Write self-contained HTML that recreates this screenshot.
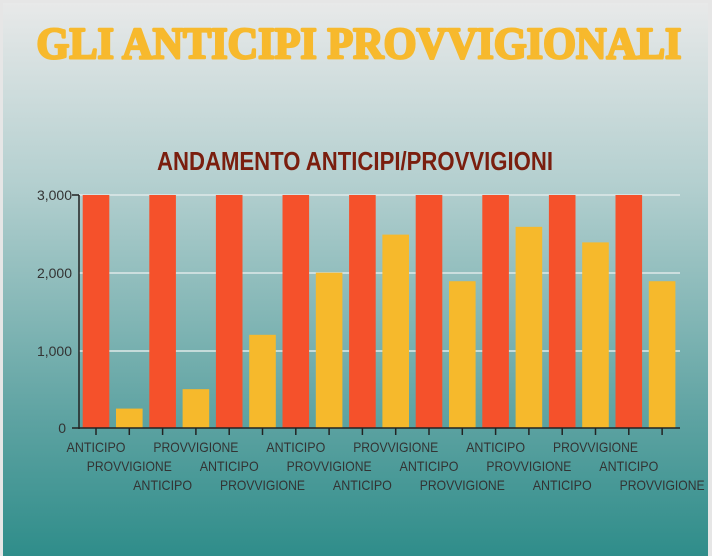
<!DOCTYPE html>
<html><head><style>
html,body{margin:0;padding:0;}
body{width:712px;height:556px;overflow:hidden;background:#e6e6e6;}
</style></head><body>
<svg width="712" height="556" xmlns="http://www.w3.org/2000/svg" style="display:block">
<defs>
<linearGradient id="bg" x1="0" y1="0" x2="0" y2="1">
<stop offset="0" stop-color="#e8e9e9"/>
<stop offset="0.33" stop-color="#b3cfcf"/>
<stop offset="0.75" stop-color="#5ea3a2"/>
<stop offset="1" stop-color="#2f8d8a"/>
</linearGradient>
</defs>
<rect x="0" y="0" width="712" height="556" fill="#e6e6e6"/>
<rect x="3" y="3" width="705" height="553" fill="url(#bg)"/>
<text x="359" y="58" text-anchor="middle" font-family="Liberation Serif, serif" font-weight="bold" font-size="44" fill="#f7b92d" stroke="#f7b92d" stroke-width="2.5" stroke-linejoin="round" textLength="645" lengthAdjust="spacingAndGlyphs">GLI ANTICIPI PROVVIGIONALI</text>
<text x="355" y="170" text-anchor="middle" font-family="Liberation Sans, sans-serif" font-weight="bold" font-size="26" fill="#7a1e0e" textLength="396" lengthAdjust="spacingAndGlyphs">ANDAMENTO ANTICIPI/PROVVIGIONI</text>
<g stroke="#dfe9e9" stroke-width="1.5">
<line x1="79" y1="195" x2="680" y2="195"/>
<line x1="79" y1="273" x2="680" y2="273"/>
<line x1="79" y1="351" x2="680" y2="351"/>
</g>
<g font-family="Liberation Sans, sans-serif" font-size="14" fill="#333" text-anchor="end">
<text x="72" y="200">3,000</text>
<text x="72" y="278">2,000</text>
<text x="72" y="356">1,000</text>
<text x="66" y="433">0</text>
</g>
<g id="bars"></g>
<g stroke="#222" stroke-width="1.5">
<line x1="79" y1="195" x2="79" y2="429"/>
<line x1="72" y1="195" x2="79" y2="195"/>
<line x1="72" y1="428" x2="680" y2="428"/>
</g>
<g id="ticks" stroke="#222" stroke-width="1.5"></g>
<g id="labels" font-family="Liberation Sans, sans-serif" font-size="14" fill="#333" text-anchor="middle"></g>
<script>
var vals=[3000,250,3000,500,3000,1200,3000,2000,3000,2490,3000,1890,3000,2590,3000,2390,3000,1890];
var ns="http://www.w3.org/2000/svg";
var b=document.getElementById('bars'),t=document.getElementById('ticks'),l=document.getElementById('labels');
for(var i=0;i<18;i++){
 var cx=96+i*33.3;
 var h=vals[i]*233/3000;
 var r=document.createElementNS(ns,'rect');
 r.setAttribute('x',cx-13.3);r.setAttribute('width',26.6);
 r.setAttribute('y',428-h);r.setAttribute('height',h);
 r.setAttribute('fill',i%2?'#f6b92c':'#f5512b');
 b.appendChild(r);
 var ln=document.createElementNS(ns,'line');
 ln.setAttribute('x1',cx);ln.setAttribute('x2',cx);ln.setAttribute('y1',428);ln.setAttribute('y2',435);
 t.appendChild(ln);
 var tx=document.createElementNS(ns,'text');
 tx.setAttribute('x',cx);tx.setAttribute('y',452+(i%3)*19);
 tx.setAttribute('textLength',i%2?85:59);
 tx.setAttribute('lengthAdjust','spacingAndGlyphs');
 tx.textContent=i%2?'PROVVIGIONE':'ANTICIPO';
 l.appendChild(tx);
}
</script>
</svg>
</body></html>
